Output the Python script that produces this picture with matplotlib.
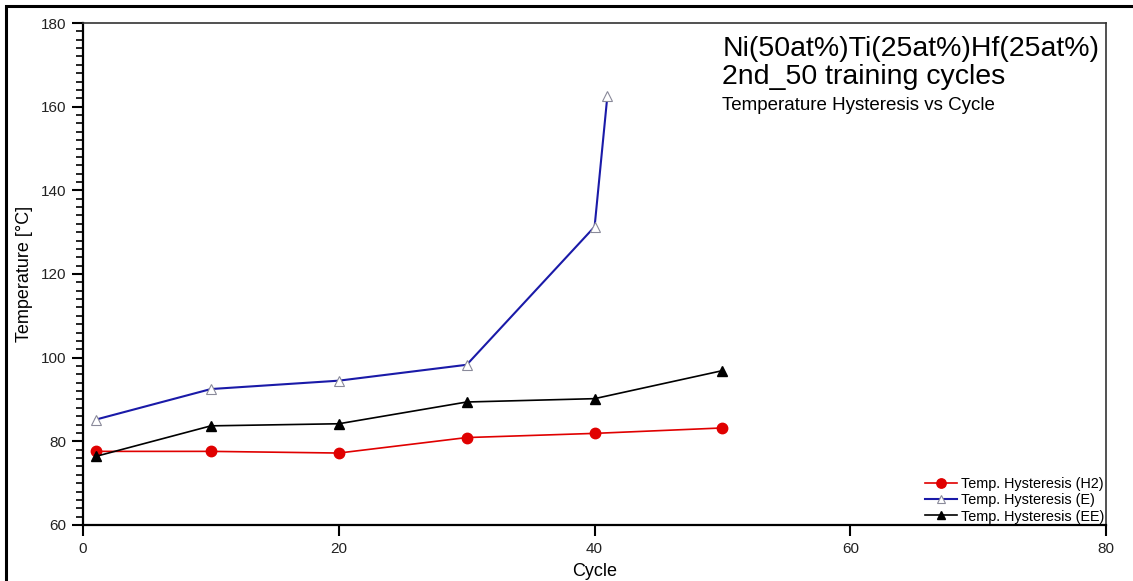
import matplotlib
matplotlib.use('Agg')
import matplotlib.pyplot as plt
from matplotlib.patches import Rectangle
from matplotlib.ticker import MultipleLocator

plt.rcParams['font.family'] = ['Liberation Sans', 'DejaVu Sans']

cycles_h2 = [1, 10, 20, 30, 40, 50]
temp_h2 = [77.6, 77.6, 77.2, 80.9, 81.9, 83.2]
cycles_e = [1, 10, 20, 30, 40, 41]
temp_e = [85.2, 92.5, 94.5, 98.3, 131.3, 162.6]
cycles_ee = [1, 10, 20, 30, 40, 50]
temp_ee = [76.4, 83.7, 84.2, 89.4, 90.2, 96.9]

fig = plt.figure(figsize=(11.33, 5.81), dpi=100)
ax = fig.add_axes([0.0733, 0.0964, 0.9030, 0.8640])

# outer frame (cropped at right/bottom in the original)
fig.patches.append(Rectangle((6 / 1133, -0.05), 1.2, 1 - 6 / 581 + 0.05,
                             transform=fig.transFigure, fill=False,
                             edgecolor='black', linewidth=2.2, zorder=0))

ax.plot(cycles_h2, temp_h2, color='#e00000', linewidth=1.2, marker='o',
        markersize=7.5, label='Temp. Hysteresis (H2)', zorder=3)
ax.plot(cycles_e, temp_e, color='#1a1aa8', linewidth=1.5, marker='^',
        markersize=7, markerfacecolor='white', markeredgecolor='#8a8a9a',
        markeredgewidth=0.8, label='Temp. Hysteresis (E)', zorder=3)
ax.plot(cycles_ee, temp_ee, color='black', linewidth=1.2, marker='^',
        markersize=7, label='Temp. Hysteresis (EE)', zorder=3)

ax.set_xlim(0, 80)
ax.set_ylim(60, 180)
ax.xaxis.set_major_locator(MultipleLocator(20))
ax.yaxis.set_major_locator(MultipleLocator(20))
ax.yaxis.set_minor_locator(MultipleLocator(2))

for s in ['left', 'bottom']:
    ax.spines[s].set_linewidth(1.6)
for s in ['top', 'right']:
    ax.spines[s].set_linewidth(1.2)
    ax.spines[s].set_color('#333333')

ax.tick_params(axis='both', which='major', direction='out', length=8,
               width=1.5, labelsize=11, labelcolor='#222222', pad=4)
ax.tick_params(axis='x', which='major', pad=4)
ax.tick_params(axis='y', which='minor', direction='out', length=5, width=1.2)

ax.set_xlabel('Cycle', fontsize=13, labelpad=5)
ax.set_ylabel('Temperature [°C]', fontsize=13, labelpad=6)

ax.text(0.625, 0.975, 'Ni(50at%)Ti(25at%)Hf(25at%)', transform=ax.transAxes,
        fontsize=20.5, va='top', ha='left')
ax.text(0.625, 0.918, '2nd_50 training cycles', transform=ax.transAxes,
        fontsize=20.5, va='top', ha='left')
ax.text(0.625, 0.852, 'Temperature Hysteresis vs Cycle', transform=ax.transAxes,
        fontsize=13.5, va='top', ha='left')

ax.legend(loc='lower right', frameon=False, fontsize=10.4, handlelength=2.2,
          handletextpad=0.3, labelspacing=0.15, borderaxespad=0.0,
          borderpad=0.1, markerscale=0.9)

fig.savefig('out.png', dpi=100)
